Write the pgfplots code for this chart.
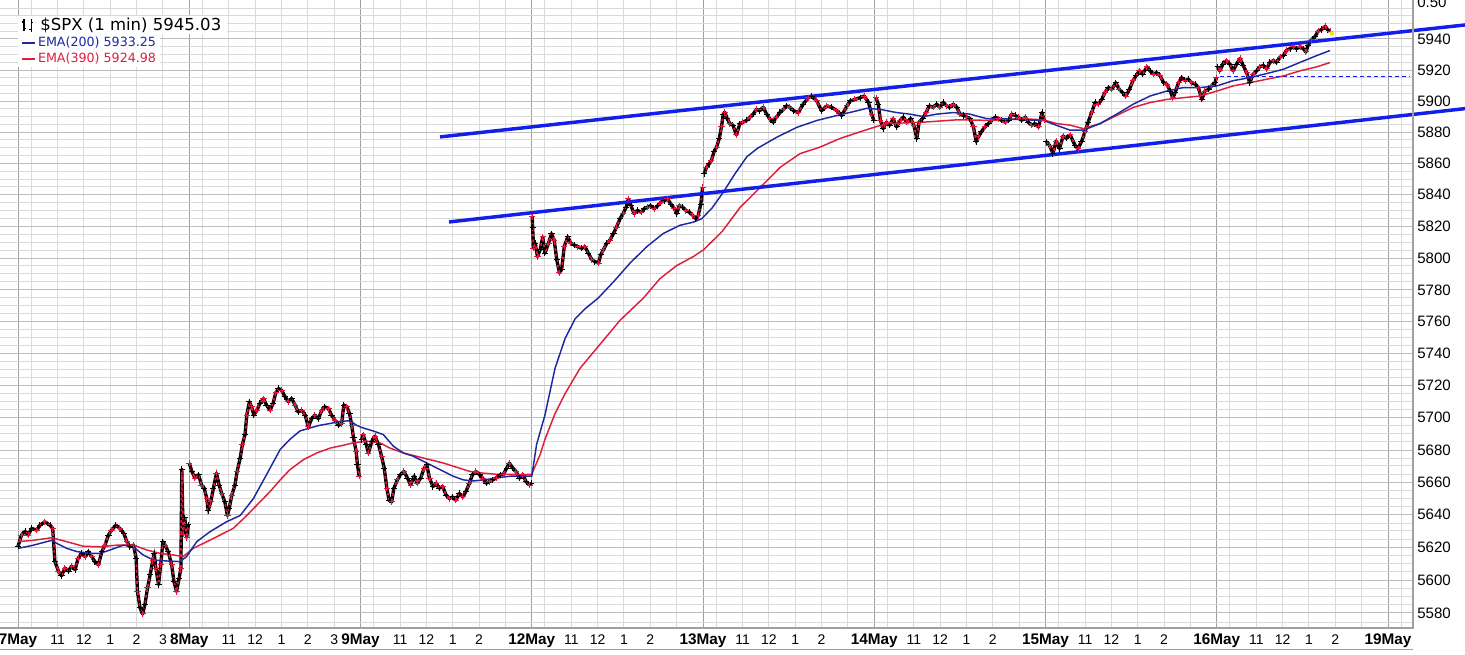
\documentclass[border=0pt]{standalone}
\usepackage{fontspec}
\setmainfont{Liberation Sans}
\newfontfamily\dejavu{DejaVu Sans}
\usepackage{pgfplots}
\usepackage{pgfplotstable}
\pgfplotsset{compat=1.18}
\definecolor{emaBlue}{RGB}{30,40,160}
\definecolor{emaRed}{RGB}{222,30,60}
\definecolor{barRed}{RGB}{228,20,60}
\definecolor{chan}{RGB}{20,30,235}
\definecolor{gMinor}{RGB}{218,218,218}
\definecolor{gMajor}{RGB}{188,188,188}
\definecolor{gDay}{RGB}{160,160,160}
\definecolor{border}{RGB}{160,160,160}

% x = trading minutes since 7 May 9:30 (390 per session); y = S&P 500 level
\pgfplotstableread{
t p
0 5620.6
8 5627.5
16 5629.7
23 5627.5
31 5631.5
43 5630.5
50 5633.5
61 5635.6
73 5633.5
79 5631.5
84 5611.5
92 5605.5
99 5602.5
107 5607.3
115 5605.5
122 5608.5
130 5606.3
137 5613.3
145 5616.4
153 5614.4
160 5617.4
168 5614.4
175 5611.3
183 5609.3
191 5617.4
198 5621.4
206 5627.5
213 5630.5
223 5633.5
232 5631.5
241 5628.5
248 5623.4
255 5620.4
263 5621.4
269 5613.3
272 5593.1
278 5583.0
284 5579.4
289 5585.0
295 5595.2
301 5603.3
307 5612.3
310 5616.4
314 5607.3
320 5597.2
325 5609.3
330 5623.4
335 5621.4
342 5617.4
350 5609.3
355 5599.2
361 5593.1
367 5601.2
371 5607.3
373 5668.0
376 5628.0
380 5638.0
384 5626.0
388 5634.0
390 5671.9
396 5666.7
403 5662.5
411 5664.6
418 5658.3
424 5656.3
430 5650.0
433 5642.7
439 5648.0
445 5656.3
452 5665.6
458 5658.3
464 5653.1
471 5648.0
477 5639.6
481 5643.8
487 5652.1
494 5658.3
499 5666.7
506 5675.0
511 5683.3
517 5689.5
521 5701.5
527 5709.8
532 5706.7
537 5701.5
544 5704.6
551 5708.8
559 5711.9
566 5707.7
574 5704.6
581 5708.8
587 5715.5
593 5718.1
600 5717.1
608 5713.0
616 5709.8
623 5711.9
631 5707.7
638 5703.5
646 5704.6
654 5701.5
661 5694.2
669 5699.4
676 5701.5
684 5699.4
692 5704.6
699 5706.7
707 5705.6
714 5701.5
722 5698.3
730 5695.2
737 5696.3
742 5707.7
749 5706.7
755 5702.5
760 5695.2
764 5687.5
770 5679.2
773 5670.9
777 5663.6
783 5686.4
786 5689.5
793 5683.3
798 5678.1
806 5685.4
813 5688.5
821 5683.3
828 5676.0
834 5668.8
840 5656.3
845 5649.0
851 5648.0
856 5656.3
864 5661.4
871 5664.6
879 5666.7
887 5662.5
894 5658.3
902 5663.6
909 5659.4
917 5662.5
925 5668.8
931 5670.9
937 5662.5
945 5657.3
952 5659.4
959 5656.3
967 5657.3
975 5652.1
982 5650.0
990 5651.0
997 5649.0
1005 5653.1
1013 5651.0
1020 5654.2
1028 5659.4
1035 5664.6
1043 5666.7
1051 5664.6
1058 5662.5
1066 5659.4
1073 5660.4
1081 5661.4
1089 5662.5
1098 5664.6
1105 5664.6
1113 5668.8
1119 5671.9
1127 5668.8
1134 5666.7
1142 5662.5
1150 5664.6
1157 5660.4
1165 5658.3
1169 5659.4
1171 5826.0
1172 5819.6
1174 5806.0
1178 5809.2
1183 5800.8
1189 5805.0
1195 5813.3
1200 5803.0
1208 5809.2
1215 5815.4
1221 5811.3
1227 5798.8
1233 5790.7
1238 5792.7
1244 5807.1
1252 5813.3
1259 5809.2
1267 5808.1
1275 5807.1
1284 5806.0
1291 5807.1
1299 5803.0
1307 5798.8
1314 5797.7
1322 5796.8
1327 5801.9
1333 5805.0
1341 5809.2
1348 5811.3
1356 5815.4
1363 5819.6
1371 5824.8
1378 5828.0
1385 5832.2
1390 5837.3
1396 5833.1
1403 5828.0
1411 5830.0
1419 5829.0
1426 5831.2
1434 5832.2
1441 5833.1
1449 5831.2
1457 5833.1
1464 5835.3
1472 5836.3
1479 5837.3
1487 5834.1
1495 5831.2
1500 5828.0
1506 5833.1
1514 5832.2
1521 5830.0
1529 5829.0
1537 5826.9
1544 5824.8
1549 5826.9
1555 5834.1
1559 5844.7
1563 5853.4
1568 5857.6
1574 5859.8
1579 5861.9
1585 5867.3
1591 5870.5
1597 5875.9
1602 5883.3
1606 5891.6
1610 5892.6
1615 5888.6
1621 5885.4
1628 5884.4
1636 5878.1
1644 5885.4
1651 5886.4
1659 5887.5
1667 5889.6
1674 5891.6
1682 5894.7
1689 5893.7
1697 5895.8
1705 5891.6
1712 5888.6
1720 5886.4
1727 5889.6
1735 5892.6
1743 5894.7
1750 5896.8
1758 5895.8
1766 5893.7
1777 5892.6
1788 5897.9
1800 5902.1
1807 5903.2
1819 5900.0
1830 5893.7
1842 5896.8
1853 5895.8
1865 5893.7
1876 5890.6
1888 5896.8
1895 5900.0
1906 5901.0
1918 5902.1
1927 5903.2
1937 5898.9
1944 5891.6
1949 5887.5
1954 5902.1
1959 5897.9
1964 5887.5
1970 5882.3
1978 5886.4
1985 5884.4
1993 5888.6
2001 5883.3
2009 5887.5
2016 5889.6
2024 5886.4
2033 5888.6
2040 5884.4
2047 5875.9
2052 5886.4
2060 5888.6
2068 5892.6
2075 5896.8
2084 5895.8
2092 5897.9
2099 5895.8
2107 5898.9
2115 5896.8
2122 5895.8
2130 5897.9
2138 5895.8
2145 5891.6
2153 5890.6
2161 5889.6
2168 5888.6
2176 5883.3
2182 5873.8
2187 5877.0
2194 5880.2
2202 5883.3
2210 5885.4
2218 5887.5
2225 5889.6
2233 5888.6
2240 5887.5
2248 5886.4
2256 5887.5
2263 5891.6
2271 5890.6
2278 5889.6
2286 5887.5
2294 5889.6
2301 5886.4
2309 5884.4
2316 5885.4
2324 5883.3
2332 5892.6
2337 5887.5
2342 5873.8
2349 5871.6
2357 5866.3
2364 5874.3
2372 5869.5
2380 5877.5
2387 5876.0
2396 5878.1
2407 5871.6
2414 5869.5
2422 5873.8
2430 5880.2
2437 5886.4
2445 5892.6
2453 5898.9
2460 5897.9
2468 5901.0
2475 5905.3
2483 5908.6
2491 5907.5
2500 5911.8
2508 5907.5
2516 5905.3
2523 5903.2
2531 5907.5
2539 5912.9
2546 5916.1
2554 5919.4
2561 5917.2
2571 5921.9
2578 5919.4
2586 5917.2
2593 5918.3
2601 5916.1
2609 5911.8
2616 5910.8
2624 5906.4
2630 5902.1
2635 5905.3
2643 5911.8
2650 5915.0
2658 5912.9
2665 5914.0
2673 5911.8
2681 5910.8
2688 5908.6
2696 5901.0
2703 5906.4
2711 5907.5
2718 5909.7
2726 5911.8
2729 5915.0
2732 5921.9
2737 5919.4
2744 5923.7
2752 5926.0
2760 5923.7
2767 5919.4
2775 5923.7
2783 5927.2
2790 5922.8
2798 5918.3
2805 5911.8
2813 5917.2
2821 5919.4
2828 5921.9
2836 5922.8
2844 5920.7
2851 5924.8
2859 5926.0
2866 5924.8
2874 5928.2
2882 5929.3
2889 5932.6
2897 5933.7
2904 5934.8
2912 5933.7
2920 5934.8
2927 5933.7
2933 5931.5
2938 5936.0
2946 5939.4
2954 5941.6
2961 5944.9
2969 5946.0
2977 5948.2
2982 5946.0
2988 5945.0
}\price

\pgfplotstableread{
t v
0 5619.4
35 5621.4
77 5624.4
88 5622.4
111 5619.4
134 5617.4
164 5616.4
187 5616.4
210 5618.4
240 5621.4
263 5620.4
285 5615.3
308 5612.3
339 5611.7
369 5611.3
384 5614.4
407 5623.4
437 5629.6
475 5635.6
506 5639.6
536 5650.0
566 5664.6
597 5680.2
619 5686.4
642 5691.6
665 5693.5
687 5695.1
710 5696.3
733 5697.6
756 5698.0
771 5695.2
786 5693.5
809 5691.6
832 5689.5
855 5682.3
878 5678.1
900 5676.1
923 5673.0
946 5669.8
969 5666.7
991 5663.6
1014 5661.5
1037 5660.8
1060 5661.5
1090 5662.5
1120 5663.6
1151 5663.6
1170 5663.6
1181 5683.3
1200 5701.5
1223 5730.6
1246 5749.4
1269 5761.9
1292 5768.1
1321 5774.5
1356 5784.9
1394 5796.8
1432 5807.1
1469 5815.4
1507 5820.6
1538 5822.7
1557 5824.8
1581 5831.7
1606 5841.6
1633 5853.4
1660 5864.3
1685 5869.8
1727 5876.6
1774 5883.1
1820 5887.5
1865 5890.6
1911 5893.7
1933 5895.2
1963 5894.7
2001 5892.6
2031 5891.6
2062 5889.9
2092 5891.6
2130 5892.6
2168 5891.6
2206 5888.6
2244 5888.6
2290 5887.9
2335 5887.5
2364 5884.4
2396 5881.3
2426 5881.3
2464 5885.4
2502 5891.6
2540 5897.9
2578 5903.2
2616 5906.4
2654 5908.6
2692 5908.6
2730 5909.7
2767 5912.9
2805 5915.0
2844 5917.6
2882 5920.5
2920 5924.8
2958 5929.3
2988 5932.5
}\emaA

\pgfplotstableread{
t v
0 5623.4
35 5624.4
77 5625.9
111 5623.4
148 5620.8
187 5620.4
225 5621.4
263 5621.4
293 5618.4
323 5616.4
354 5615.3
376 5614.4
399 5619.4
430 5623.4
460 5627.5
490 5631.5
521 5639.6
551 5648.0
574 5654.2
597 5661.4
619 5667.7
650 5673.9
680 5678.1
711 5681.2
741 5682.9
764 5684.4
794 5685.4
824 5684.4
847 5681.2
878 5678.1
908 5676.0
938 5673.9
969 5671.9
999 5669.2
1029 5666.7
1060 5665.6
1090 5665.0
1120 5665.0
1151 5664.6
1170 5665.0
1189 5677.1
1200 5686.4
1223 5702.5
1246 5715.0
1280 5730.6
1326 5746.0
1371 5760.6
1424 5774.5
1462 5787.0
1500 5795.2
1538 5800.8
1561 5805.0
1603 5816.5
1645 5832.2
1690 5844.7
1736 5857.6
1781 5866.3
1827 5870.5
1872 5875.9
1918 5880.2
1940 5882.3
1978 5885.4
2061 5886.4
2138 5887.9
2214 5887.5
2289 5888.6
2334 5887.9
2366 5885.4
2396 5884.4
2426 5882.3
2464 5885.4
2502 5890.6
2540 5895.8
2578 5898.9
2616 5901.0
2654 5902.1
2692 5903.2
2730 5906.4
2767 5909.7
2805 5911.8
2844 5914.0
2882 5916.1
2920 5919.4
2958 5921.9
2988 5924.7
}\emaB

\begin{document}
\begin{tikzpicture}
\useasboundingbox (0,0) rectangle (1098.75pt,490.5pt);
\begin{axis}[
  at={(0pt,19.5pt)}, anchor=south west,
  scale only axis, width=1059.75pt, height=471pt,
  xmin=-41, xmax=3177,
  y coord trafo/.code={\pgfmathparse{1000*ln(#1/5580)}},
  ymin=5571.5, ymax=5965.2,
  clip=false,
  axis line style={draw=none},
  major tick length=0pt, minor tick length=0pt,
  xtick={0,390,780,1170,1560,1950,2340,2730,3120},
  xticklabels={7May,8May,9May,12May,13May,14May,15May,16May,19May},
  minor xtick={30,90,150,210,270,330,420,480,540,600,660,720,810,870,930,990,1050,1110,1200,1260,1320,1380,1440,1500,1590,1650,1710,1770,1830,1890,1980,2040,2100,2160,2220,2280,2370,2430,2490,2550,2610,2670,2760,2820,2880,2940,3000,3060,3150},
  extra x ticks={90,150,210,270,330,480,540,600,660,720,870,930,990,1050,1260,1320,1380,1440,1650,1710,1770,1830,2040,2100,2160,2220,2430,2490,2550,2610,2820,2880,2940,3000},
  extra x tick labels={11,12,1,2,3,11,12,1,2,3,11,12,1,2,11,12,1,2,11,12,1,2,11,12,1,2,11,12,1,2,11,12,1,2},
  extra x tick style={grid=none, xticklabel style={font=\fontsize{10.5}{12}\selectfont}},
  ytick={5580,5600,5620,5640,5660,5680,5700,5720,5740,5760,5780,5800,5820,5840,5860,5880,5900,5920,5940},
  yticklabels={5580,5600,5620,5640,5660,5680,5700,5720,5740,5760,5780,5800,5820,5840,5860,5880,5900,5920,5940},
  minor ytick={5575,5585,5590,5595,5605,5610,5615,5625,5630,5635,5645,5650,5655,5665,5670,5675,5685,5690,5695,5705,5710,5715,5725,5730,5735,5745,5750,5755,5765,5770,5775,5785,5790,5795,5805,5810,5815,5825,5830,5835,5845,5850,5855,5865,5870,5875,5885,5890,5895,5905,5910,5915,5925,5930,5935,5945,5950,5955,5960},
  grid=both,
  major x grid style={gDay, line width=0.75pt},
  minor x grid style={gMinor, line width=0.75pt},
  major y grid style={gMajor, line width=0.75pt},
  minor y grid style={gMinor, line width=0.75pt},
  yticklabel pos=right,
  yticklabel style={anchor=west, inner sep=0pt, xshift=3pt, font=\fontsize{11.3}{12}\selectfont},
  xticklabel style={anchor=base, inner sep=0pt, yshift=-12.4pt, font=\bfseries\fontsize{11.5}{12}\selectfont},
]
\pgfplotsinvokeforeach{0:389.5,389.5:779.5,779.5:1169.5,1169.5:1559.5,1559.5:1949.5,1949.5:2339.5,2339.5:2729.5,2729.5:3119.5}{
  \addplot[black, line width=2.5pt, line join=round, restrict x to domain=#1] table[x=t, y=p] {\price};
  \addplot[barRed, line width=1.3pt, dash pattern=on 2pt off 2.2pt, restrict x to domain=#1] table[x=t, y=p] {\price};
}
\addplot[only marks, mark=+, mark size=2.3pt, black, mark options={line width=0.75pt}, mark repeat=2] table[x=t, y=p] {\price};
\addplot[only marks, mark=+, mark size=2.3pt, barRed, mark options={line width=0.75pt}, mark repeat=2, mark phase=2] table[x=t, y=p] {\price};
\addplot[emaRed, line width=1.1pt] table[x=t, y=v] {\emaB};
\addplot[emaBlue, line width=1.1pt] table[x=t, y=v] {\emaA};
\addplot[chan, line width=2.6pt] coordinates {(961.1,5877.0) (3295.4,5949.05)};
\addplot[chan, line width=2.6pt] coordinates {(981.6,5822.8) (3295.4,5894.96)};
\addplot[chan, line width=0.75pt, dash pattern=on 3pt off 2.25pt] coordinates {(2737,5915.7) (3170,5915.7)};
\addplot[only marks, mark=*, mark size=1.5pt, color=yellow!85!orange] coordinates {(2992,5943.5)};
\end{axis}
% frame lines
\draw[border, line width=0.9pt] (0pt,19.5pt) -- (1059.75pt,19.5pt) -- (1059.75pt,490.5pt);
\draw[border, line width=0.75pt] (0pt,3.75pt) -- (1059.75pt,3.75pt);
% legend
\fill[white] (13.5pt,465pt) rectangle (170.25pt,478.5pt);
\fill[white] (13.5pt,440.25pt) rectangle (120pt,465pt);
\draw[black, line width=0.9pt] (18pt,467pt) -- (18pt,476.5pt) (16.5pt,474pt) -- (18pt,474pt) (18pt,469pt) -- (19.5pt,469pt)
  (23.5pt,466.5pt) -- (23.5pt,476pt) (22pt,468.5pt) -- (23.5pt,468.5pt) (23.5pt,473.5pt) -- (25pt,473.5pt);
\node[anchor=west, inner sep=0pt, font=\dejavu\fontsize{12.4}{14}\selectfont] at (30pt,471.75pt) {\$SPX (1 min) 5945.03};
\draw[emaBlue, line width=1.5pt] (16.5pt,458.5pt) -- (26.25pt,458.5pt);
\node[anchor=west, inner sep=0pt, text=emaBlue, font=\dejavu\fontsize{9.5}{11}\selectfont] at (28.3pt,458.5pt) {EMA(200) 5933.25};
\draw[emaRed, line width=1.5pt] (16.5pt,446.25pt) -- (26.25pt,446.25pt);
\node[anchor=west, inner sep=0pt, text=emaRed, font=\dejavu\fontsize{9.5}{11}\selectfont] at (28.3pt,446.25pt) {EMA(390) 5924.98};
\node[anchor=west, inner sep=0pt, font=\fontsize{11.3}{12}\selectfont] at (1062.75pt,488.5pt) {0.50};
\end{tikzpicture}
\end{document}
